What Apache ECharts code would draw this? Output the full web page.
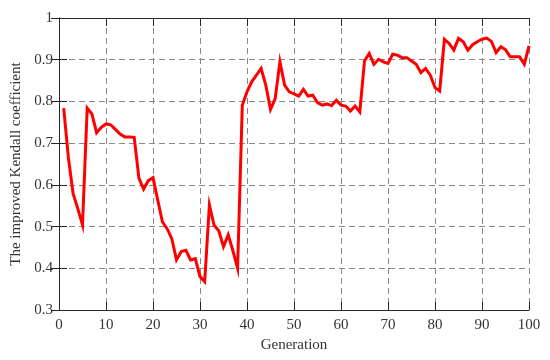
<!DOCTYPE html>
<html>
<head>
<meta charset="utf-8">
<script src="https://cdn.jsdelivr.net/npm/echarts@6/dist/echarts.min.js"></script>
<style>html,body{margin:0;padding:0;background:#fff;}#c{width:550px;height:360px;}</style>
</head>
<body>
<div id="c"></div>
<script>
var generations = [];
for (var g = 1; g <= 100; g++) generations.push(g);
var kendall = [
  0.784, 0.665, 0.579, 0.543, 0.504, 0.784, 0.770, 0.725, 0.738, 0.746,
  0.744, 0.733, 0.722, 0.715, 0.715, 0.714, 0.616, 0.590, 0.610, 0.617,
  0.564, 0.511, 0.495, 0.471, 0.420, 0.440, 0.443, 0.420, 0.423, 0.380,
  0.368, 0.552, 0.503, 0.490, 0.452, 0.480, 0.442, 0.400, 0.791, 0.823,
  0.847, 0.863, 0.879, 0.839, 0.781, 0.807, 0.895, 0.839, 0.823, 0.818,
  0.813, 0.829, 0.813, 0.815, 0.797, 0.791, 0.794, 0.790, 0.803, 0.791,
  0.789, 0.777, 0.789, 0.775, 0.897, 0.915, 0.889, 0.901, 0.895, 0.891,
  0.913, 0.911, 0.905, 0.905, 0.897, 0.889, 0.869, 0.879, 0.863, 0.833,
  0.825, 0.949, 0.939, 0.923, 0.951, 0.943, 0.923, 0.936, 0.943, 0.949,
  0.952, 0.944, 0.917, 0.931, 0.924, 0.907, 0.907, 0.907, 0.889, 0.933
];
var xTicks = [0, 10, 20, 30, 40, 50, 60, 70, 80, 90, 100];
var yTicks = [0.3, 0.4, 0.5, 0.6, 0.7, 0.8, 0.9, 1];
var xTitle = 'Generation';
var yTitle = 'The improved Kendall coefficient';

var FONT = '"Liberation Serif", "Times New Roman", serif';
var AX = '#262626';
var TXT = '#333';
var pairs = generations.map(function (g, i) { return [g, kendall[i]]; });

var chart = echarts.init(document.getElementById('c'), null, { renderer: 'canvas' });
var mirror = {
  axisLine: { show: true, lineStyle: { color: AX, width: 1 } },
  axisTick: { show: true, inside: true, length: 8, lineStyle: { color: AX } },
  axisLabel: { show: false },
  splitLine: { show: false }
};
chart.setOption({
  animation: false,
  backgroundColor: '#fff',
  grid: { left: 59, right: 21, top: 18, bottom: 50, containLabel: false },
  xAxis: [
    {
      type: 'value', min: xTicks[0], max: xTicks[xTicks.length - 1], interval: 10,
      position: 'bottom',
      name: xTitle, nameLocation: 'middle', nameGap: 28,
      nameTextStyle: { fontFamily: FONT, fontSize: 15, color: TXT },
      axisLine: { show: true, lineStyle: { color: AX, width: 1 } },
      axisTick: { show: true, inside: true, length: 8, lineStyle: { color: AX } },
      axisLabel: { fontFamily: FONT, fontSize: 15, color: TXT, margin: 8 },
      splitLine: { show: true, lineStyle: { color: '#888', type: [6, 4], width: 1 } }
    },
    Object.assign({ type: 'value', min: 0, max: 100, interval: 10, position: 'top' }, mirror)
  ],
  yAxis: [
    {
      type: 'value', min: yTicks[0], max: yTicks[yTicks.length - 1], interval: 0.1,
      position: 'left',
      name: yTitle, nameLocation: 'middle', nameGap: 28, nameRotate: 90,
      nameTextStyle: { fontFamily: FONT, fontSize: 15, color: TXT },
      axisLine: { show: true, lineStyle: { color: AX, width: 1 } },
      axisTick: { show: true, inside: true, length: 8, lineStyle: { color: AX } },
      axisLabel: {
        fontFamily: FONT, fontSize: 15, color: TXT, margin: 6,
        formatter: function (v) { return String(Math.round(v * 10) / 10); }
      },
      splitLine: { show: true, lineStyle: { color: '#888', type: [6, 4], width: 1 } }
    },
    Object.assign({ type: 'value', min: 0.3, max: 1, interval: 0.1, position: 'right' }, mirror)
  ],
  series: [{
    type: 'line',
    data: pairs,
    xAxisIndex: 0, yAxisIndex: 0,
    showSymbol: false, symbol: 'none',
    lineStyle: { color: '#ff0000', width: 3, join: 'miter' },
    itemStyle: { color: '#ff0000' },
    z: 5
  }]
});
</script>
</body>
</html>
